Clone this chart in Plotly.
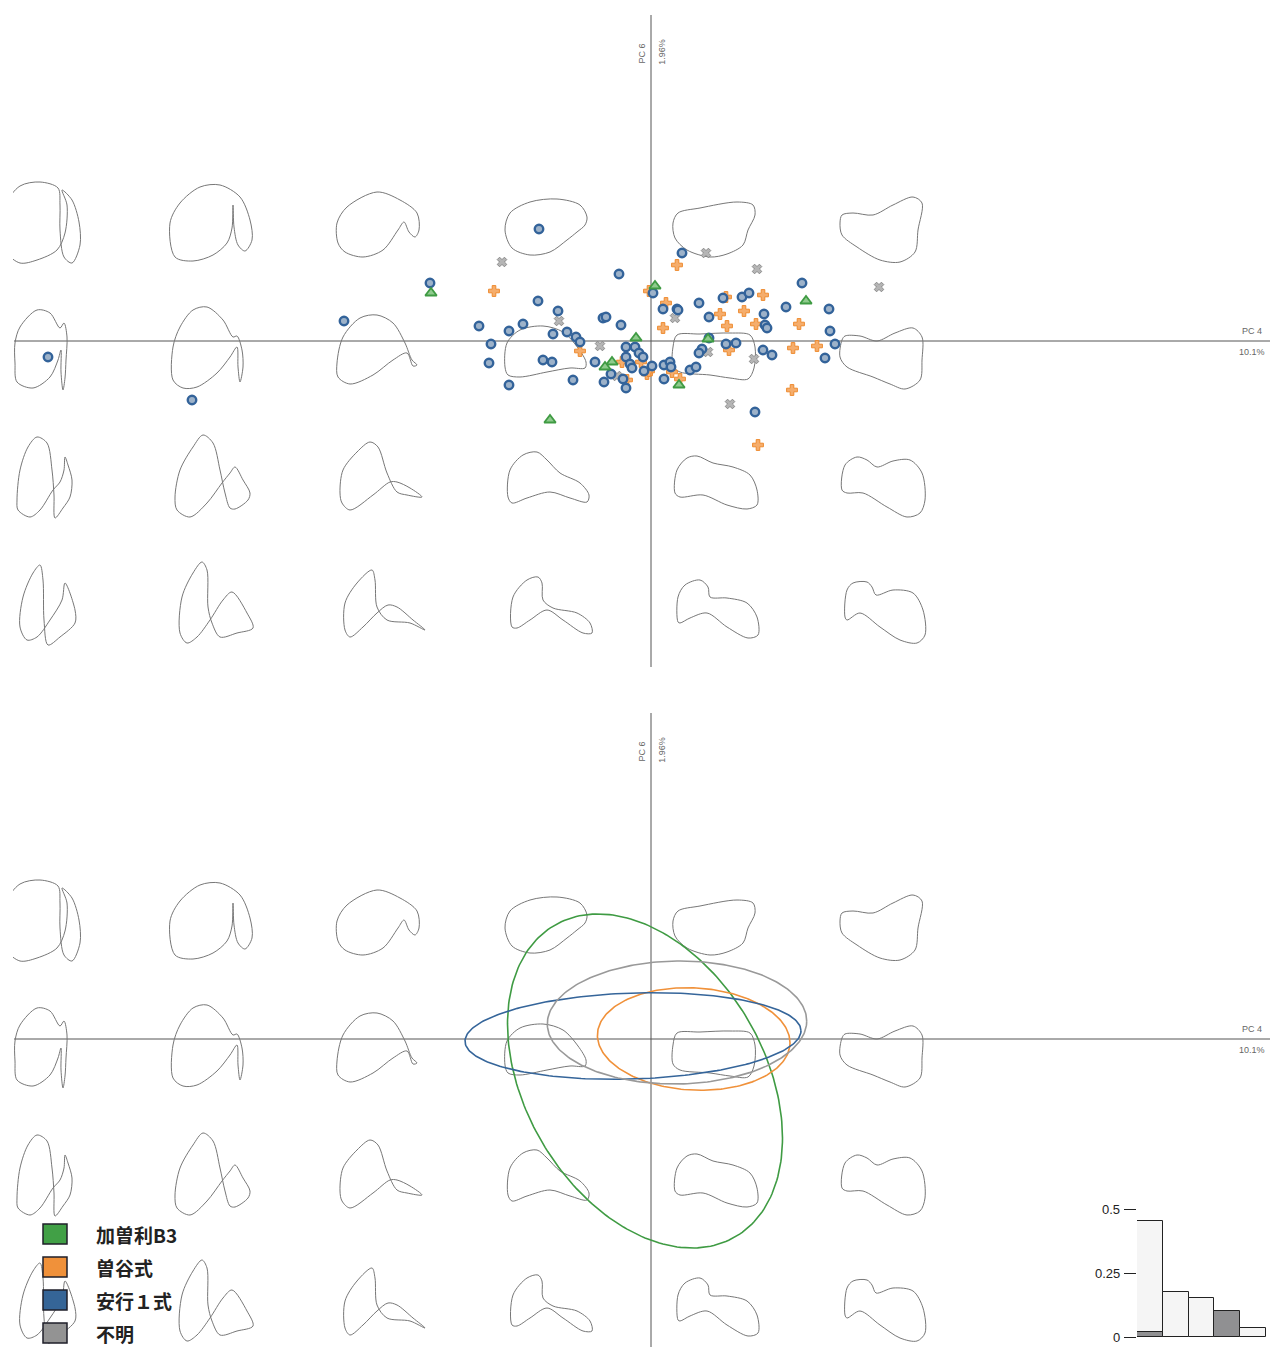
import numpy as np
import plotly.graph_objects as go

# page is 1278x1362; the browser body adds an 8px margin around the figure
PAGE_W, PAGE_H = 1278, 1362
OFF_X, OFF_Y = 8, 8
W, H = PAGE_W - 2 * OFF_X, 1339

# ---------------- morphospace grid (PC4 / PC6 positions of reconstructed outlines) -------------
GRID_PC4 = [-0.604, -0.439, -0.273, -0.105, 0.063, 0.230]
GRID_PC6 = [0.119, -0.008, -0.136, -0.262]

# reconstructed outlines: (dx, dy) offsets in 1e-3 PC units, dy measured downward
OUTLINES_ROW1 = [
    [(-27,41),(-10,38),(10,28),(18,11),(20,-17),(15,-32),(25,-22),(32,0),(33,23),(25,41),(17,35),(13,8),(13,-17),(11,-34),(-7,-40),(-27,-36),(-42,-17),(-47,8),(-41,30)],
    [(-37,35),(-42,1),(-32,-19),(-12,-35),(8,-37),(28,-25),(38,-2),(40,18),(33,29),(26,23),(22,5),(21,-17),(20,6),(15,21),(1,33),(-19,39)],
    [(-40,21),(-41,1),(-31,-15),(-1,-30),(22,-22),(39,-9),(41,8),(37,15),(31,10),(26,0),(20,8),(5,28),(-15,35),(-33,30)],
    [(-41,8),(-36,-9),(-16,-20),(11,-23),(34,-17),(41,-5),(39,3),(31,10),(21,18),(4,30),(-16,33),(-34,26)],
    [(-41,1),(-36,-9),(-14,-14),(23,-20),(39,-17),(41,-7),(34,8),(29,23),(13,32),(-4,35),(-27,28),(-39,16)],
    [(-39,-7),(-28,-9),(-8,-7),(12,-17),(32,-25),(41,-19),(37,8),(34,30),(19,40),(-1,38),(-24,25),(-39,13),(-41,1)],
]
OUTLINES_ROW2 = [
    [(-32,-6),(-27,-22),(-10,-39),(3,-36),(13,-21),(17,-26),(20,-12),(19,11),(18,29),(16,41),(14,23),(14,1),(11,11),(3,28),(-14,39),(-30,33),(-32,14)],
    [(-39,-2),(-32,-22),(-19,-39),(-5,-42),(11,-29),(21,-12),(25,-13),(30,1),(31,18),(28,33),(26,18),(25,-2),(18,8),(5,24),(-15,38),(-29,39),(-39,31)],
    [(-41,14),(-35,-12),(-18,-31),(-1,-34),(15,-26),(27,-6),(34,11),(39,16),(35,17),(29,4),(15,11),(-5,26),(-28,35),(-40,28)],
    [(-41,18),(-39,-6),(-26,-19),(-3,-23),(17,-17),(32,-1),(40,13),(39,19),(24,19),(1,23),(-26,28),(-38,26)],
    [(-41,-2),(-37,-14),(-14,-15),(16,-16),(36,-14),(41,-2),(40,19),(34,30),(16,29),(-4,26),(-34,23),(-41,17)],
    [(-39,-9),(-36,-13),(-21,-13),(-4,-8),(14,-16),(32,-21),(41,-12),(41,11),(39,31),(24,40),(9,35),(-8,28),(-34,18),(-41,8)],
]
OUTLINES_ROW3 = [
    [(-30,23),(-27,-7),(-19,-30),(-10,-40),(0,-34),(5,-7),(7,18),(8,41),(16,31),(23,20),(25,3),(21,-12),(18,-20),(17,-7),(13,5),(6,13),(-7,33),(-17,40),(-29,33)],
    [(-37,20),(-32,-7),(-19,-30),(-9,-42),(1,-34),(8,-7),(13,16),(18,31),(23,32),(36,23),(38,16),(31,3),(23,-10),(18,-4),(10,6),(-5,26),(-22,40),(-35,33)],
    [(-38,16),(-35,-7),(-21,-25),(-8,-35),(0,-30),(9,-4),(19,15),(29,18),(44,20),(32,11),(19,5),(12,5),(-5,18),(-28,33),(-36,26)],
    [(-38,20),(-36,-7),(-23,-22),(-9,-25),(1,-17),(14,-4),(34,6),(43,18),(41,25),(24,21),(4,15),(-19,21),(-34,26)],
    [(-39,16),(-37,-7),(-27,-19),(-17,-21),(-1,-14),(19,-10),(36,-2),(43,13),(43,28),(33,32),(13,28),(-11,18),(-34,20)],
    [(-39,13),(-36,-12),(-24,-20),(-14,-17),(-4,-10),(12,-16),(29,-17),(41,-4),(44,23),(39,36),(26,40),(6,30),(-18,16),(-34,16)],
]
OUTLINES_ROW4 = [
    [(-27,24),(-24,-6),(-14,-30),(-7,-38),(-4,-23),(-3,17),(1,42),(13,34),(28,20),(28,7),(18,-20),(15,-3),(3,17),(-10,34),(-20,37)],
    [(-32,30),(-30,-6),(-19,-30),(-10,-41),(-5,-33),(-4,4),(0,20),(8,34),(25,30),(41,25),(35,10),(20,-11),(11,-3),(-2,17),(-15,34),(-25,40)],
    [(-33,27),(-33,0),(-21,-20),(-6,-33),(-3,-23),(-1,4),(9,17),(32,20),(47,27),(35,17),(19,4),(10,2),(-1,10),(-15,24),(-28,34)],
    [(-34,24),(-33,-6),(-19,-23),(-8,-26),(-4,-20),(-3,-3),(7,5),(31,10),(44,20),(46,30),(37,30),(17,17),(1,7),(-16,17),(-29,25)],
    [(-36,19),(-36,-6),(-29,-18),(-14,-23),(-6,-16),(-4,-6),(13,-5),(33,0),(43,14),(44,32),(34,35),(13,24),(-7,10),(-24,15),(-34,20)],
    [(-36,14),(-34,-13),(-28,-20),(-14,-21),(-9,-16),(-5,-8),(12,-13),(32,-10),(42,7),(44,32),(36,40),(19,37),(-1,24),(-21,10),(-34,17)],
]
OUTLINES = [OUTLINES_ROW1, OUTLINES_ROW2, OUTLINES_ROW3, OUTLINES_ROW4]

# ---------------- group scores ----------------
GROUPS = ["加曽利B3", "曽谷式", "安行１式", "不明"]

KASORI_PC4 = [-0.220, -0.101, -0.015, 0.004, -0.039, -0.046, 0.057, 0.028, 0.155]
KASORI_PC6 = [0.048, -0.079, 0.003, 0.055, -0.021, -0.026, 0.002, -0.044, 0.040]

SOYA_PC4 = [-0.157, -0.071, -0.002, 0.015, 0.012, -0.029, -0.010, -0.024, -0.004, -0.002,
            0.026, 0.069, 0.075, 0.112, 0.093, 0.076, 0.105, 0.148, 0.166, 0.142,
            0.078, 0.021, 0.029, 0.141, 0.107]
SOYA_PC6 = [0.050, -0.010, 0.050, 0.038, 0.013, -0.021, -0.021, -0.039, -0.033, -0.030,
            0.076, 0.027, 0.044, 0.046, 0.030, 0.015, 0.017, 0.017, -0.005, -0.007,
            -0.009, -0.031, -0.038, -0.049, -0.104]

ANGYO_PC4 = [-0.603, -0.459, -0.307, -0.221, -0.112, -0.113, -0.093, -0.172, -0.142, -0.128,
             -0.098, -0.084, -0.075, -0.071, -0.160, -0.162, -0.108, -0.099, -0.142, -0.078,
             -0.032, -0.048, -0.045, -0.030, 0.002, 0.012, -0.056, -0.025, -0.016, -0.025,
             -0.012, -0.008, -0.021, -0.019, -0.040, -0.028, -0.047, -0.025, -0.007, 0.001,
             0.013, 0.019, 0.020, 0.013, 0.039, 0.045, 0.031, 0.151, 0.026, 0.027,
             0.048, 0.058, 0.072, 0.091, 0.098, 0.113, 0.114, 0.116, 0.135, 0.178,
             0.179, 0.184, 0.174, 0.112, 0.121, 0.058, 0.075, 0.085, 0.051, 0.048, 0.104]
ANGYO_PC6 = [-0.016, -0.059, 0.020, 0.058, 0.112, 0.040, 0.030, 0.015, 0.010, 0.017,
             0.007, 0.009, 0.004, -0.001, -0.003, -0.022, -0.019, -0.021, -0.044, -0.039,
             0.067, 0.023, 0.024, 0.016, 0.048, 0.032, -0.021, -0.006, -0.006, -0.016,
             -0.012, -0.016, -0.023, -0.027, -0.033, -0.038, -0.041, -0.047, -0.030, -0.025,
             -0.024, -0.021, -0.026, -0.038, -0.029, -0.026, 0.088, 0.058, 0.032, 0.031,
             0.038, 0.024, 0.043, 0.044, 0.048, 0.027, 0.016, 0.013, 0.034, 0.032,
             0.010, -0.003, -0.017, -0.009, -0.014, 0.003, -0.003, -0.002, -0.008, -0.012, -0.071]

FUMEI_PC4 = [-0.149, -0.092, -0.051, -0.034, 0.055, 0.106, 0.024, 0.057, 0.103, 0.079, 0.228]
FUMEI_PC6 = [0.079, 0.020, -0.005, -0.035, 0.088, 0.072, 0.023, -0.011, -0.018, -0.063, 0.054]

# group ellipses: centre, spread along PC4 / PC6, correlation
ELL_CX = [-0.006, 0.0427, -0.018, 0.026]
ELL_CY = [-0.042, 0.000, 0.003, 0.0165]
ELL_SX = [0.1375, 0.0963, 0.168, 0.1297]
ELL_SY = [0.167, 0.0513, 0.0433, 0.0615]
ELL_R = [-0.342, -0.073, 0.119, 0.023]

# explained variance of PCs
PC_LABELS = ["PC1", "PC2", "PC3", "PC4", "PC5"]
PC_VAR = [0.454, 0.177, 0.154, 0.101, 0.035]
PC6_VAR = 0.0196
VAR_TICKS = [0, 0.25, 0.5]
VAR_TICKTEXT = ["0", "0.25", "0.5"]

# ---------------- styles ----------------
COL_LINE = ["#3f9b43", "#f0913a", "#35659a", "#999999"]
COL_FILL = ["#41a046", "#f0913a", "#356597", "#939393"]
OUTLINE_COL = "#777777"
AXIS_COL = "#555555"


def px_x(p):   # page pixel -> paper x
    return (p - OFF_X) / W


def px_y(p):   # page pixel -> paper y
    return 1 - (p - OFF_Y) / H


fig = go.Figure()


def add_outlines(xa, ya):
    for r, row in enumerate(OUTLINES):
        for c, pts in enumerate(row):
            xs = [GRID_PC4[c] + dx / 1000 for dx, dy in pts]
            ys = [GRID_PC6[r] - dy / 1000 for dx, dy in pts]
            xs.append(xs[0]); ys.append(ys[0])
            fig.add_trace(go.Scatter(x=xs, y=ys, xaxis=xa, yaxis=ya, mode="lines",
                                     line=dict(color=OUTLINE_COL, width=1, shape="spline", smoothing=0.9),
                                     hoverinfo="skip", showlegend=False))


add_outlines("x", "y")
add_outlines("x2", "y2")

# scatter points (top panel)
pts = [
    (FUMEI_PC4, FUMEI_PC6, "x", 8.5, "#b5b5b5", "#8a8a8a", 1.0),
    (SOYA_PC4, SOYA_PC6, "cross", 9, "#f5ad6c", "#ee8a2e", 1.0),
    (ANGYO_PC4, ANGYO_PC6, "circle", 8.5, "#9db2c9", "#33639a", 2.4),
    (KASORI_PC4, KASORI_PC6, "triangle-up", 10, "#8fcb8d", "#3f9b43", 1.8),
]
names = [GROUPS[3], GROUPS[1], GROUPS[2], GROUPS[0]]
for (px, py, sym, sz, fc, lc, lw), nm in zip(pts, names):
    fig.add_trace(go.Scatter(x=px, y=py, xaxis="x", yaxis="y", mode="markers", name=nm,
                             marker=dict(symbol=sym, size=sz, color=fc, line=dict(color=lc, width=lw)),
                             showlegend=False))

# ellipses (bottom panel)
t = np.linspace(0, 2 * np.pi, 241)
for i in range(4):
    ex = ELL_CX[i] + ELL_SX[i] * np.cos(t)
    ey = ELL_CY[i] + ELL_SY[i] * (ELL_R[i] * np.cos(t) + np.sqrt(1 - ELL_R[i] ** 2) * np.sin(t))
    fig.add_trace(go.Scatter(x=ex, y=ey, xaxis="x2", yaxis="y2", mode="lines", name=GROUPS[i],
                             line=dict(color=COL_LINE[i], width=1.6), showlegend=False))

# variance bars (inset)
fig.add_trace(go.Bar(x=list(range(5)), y=PC_VAR, xaxis="x3", yaxis="y3",
                     marker=dict(color=["#f5f5f5", "#f5f5f5", "#f5f5f5", "#909092", "#f5f5f5"],
                                 line=dict(color="#222222", width=1)),
                     width=1.0, showlegend=False, hoverinfo="skip"))
fig.add_trace(go.Bar(x=[0], y=[PC6_VAR], xaxis="x3", yaxis="y3",
                     marker=dict(color="#909092", line=dict(color="#222222", width=1)),
                     width=1.0, showlegend=False, hoverinfo="skip"))

# ---------------- layout ----------------
X0_PX, X_END_PX = 13, OFF_X + W
XR = [(X0_PX - 651) / 1000, (X_END_PX - 651) / 1000]
hidden = dict(visible=False, showgrid=False, zeroline=False, fixedrange=True)

TOP_PX = (OFF_Y, 690)
BOT_PX = (698, OFF_Y + H)
BAR_TOP_PX, BAR_BASE_PX = 1209, 1337

layout = dict(
    width=W, height=H,
    margin=dict(l=0, r=0, t=0, b=0),
    paper_bgcolor="white", plot_bgcolor="rgba(0,0,0,0)",
    barmode="overlay", bargap=0,
    showlegend=False,
    xaxis=dict(domain=[px_x(X0_PX), 1], range=XR, **hidden),
    yaxis=dict(domain=[px_y(TOP_PX[1]), 1], range=[(341 - TOP_PX[1]) / 1000, (341 - TOP_PX[0]) / 1000], **hidden),
    xaxis2=dict(domain=[px_x(X0_PX), 1], range=XR, anchor="y2", **hidden),
    yaxis2=dict(domain=[0, px_y(BOT_PX[0])], range=[(1039 - BOT_PX[1]) / 1000, (1039 - BOT_PX[0]) / 1000],
                anchor="x2", **hidden),
    xaxis3=dict(domain=[px_x(1137), px_x(1266)], range=[-0.5, 4.5], anchor="y3", **hidden),
    yaxis3=dict(domain=[px_y(BAR_BASE_PX), px_y(BAR_TOP_PX)], range=[0, 0.5], anchor="x3",
                showgrid=False, zeroline=False, showline=False, showticklabels=False,
                tickvals=VAR_TICKS, ticks="outside", ticklen=12, tickcolor="#222222", tickwidth=1,
                fixedrange=True),
    font=dict(family="Liberation Sans, Arial"),
)

shapes = []
ann = []
for xa, ya, ytop, ybot in [("x", "y", 0.326, 0.341 - 0.667), ("x2", "y2", 0.326, (1039 - BOT_PX[1]) / 1000)]:
    shapes.append(dict(type="line", xref=xa, yref=ya, x0=(14 - 651) / 1000, x1=XR[1], y0=0, y1=0,
                       line=dict(color=AXIS_COL, width=1), layer="below"))
    shapes.append(dict(type="line", xref=xa, yref=ya, x0=0, x1=0, y0=ybot, y1=ytop,
                       line=dict(color=AXIS_COL, width=1), layer="below"))
    small = dict(family="Liberation Sans, Arial", size=9, color="#666666")
    ann.append(dict(xref=xa, yref=ya, x=-0.0095, y=0.287, text="PC 6", textangle=-90,
                    showarrow=False, font=small, xanchor="center", yanchor="middle"))
    ann.append(dict(xref=xa, yref=ya, x=0.0108, y=0.289, text="1.96%", textangle=-90,
                    showarrow=False, font=small, xanchor="center", yanchor="middle"))
    ann.append(dict(xref=xa, yref=ya, x=0.601, y=0.0105, text="PC 4",
                    showarrow=False, font=small, xanchor="center", yanchor="middle"))
    ann.append(dict(xref=xa, yref=ya, x=0.601, y=-0.0105, text="10.1%",
                    showarrow=False, font=small, xanchor="center", yanchor="middle"))

# tick labels of the variance inset (drawn at the axis' tick values)
for v, tt in zip(VAR_TICKS, VAR_TICKTEXT):
    ann.append(dict(xref="paper", yref="y3", x=px_x(1122), y=v, text=tt, showarrow=False,
                    xanchor="right", yanchor="middle",
                    font=dict(family="Liberation Sans, Arial", size=13, color="#222222")))

# manual legend
for i, g in enumerate(GROUPS):
    yc = 1234 + i * 33
    shapes.append(dict(type="rect", xref="paper", yref="paper",
                       x0=px_x(43), x1=px_x(67), y0=px_y(yc + 10), y1=px_y(yc - 10),
                       fillcolor=COL_FILL[i], line=dict(color="#1f1f2a", width=1.5), layer="above"))
    ann.append(dict(xref="paper", yref="paper", x=px_x(94), y=px_y(yc), text="<b>" + g + "</b>",
                    showarrow=False, xanchor="left", yanchor="middle",
                    font=dict(family="Noto Sans CJK JP", size=19, color="#222222")))

layout["shapes"] = shapes
layout["annotations"] = ann
fig.update_layout(**layout)

fig.write_html("out.html", config={"displayModeBar": False, "responsive": False})
